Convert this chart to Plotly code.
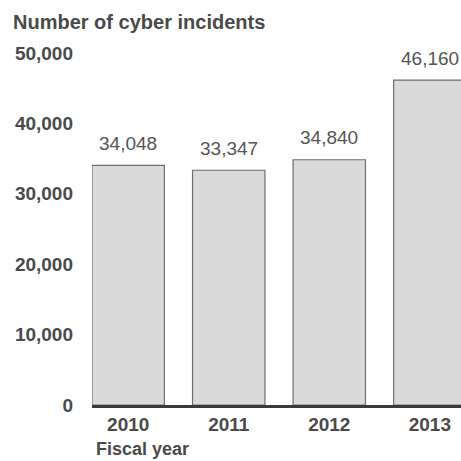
import plotly.graph_objects as go

years = ["2010", "2011", "2012", "2013"]
incidents = [34048, 33347, 34840, 46160]
y_ticks = [0, 10000, 20000, 30000, 40000, 50000]
y_tick_labels = ["0", "10,000", "20,000", "30,000", "40,000", "50,000"]

FONT = "Liberation Sans, Arial, sans-serif"
TXT = "#4a4a4a"

fig = go.Figure()
fig.add_trace(go.Bar(
    x=years, y=incidents,
    marker=dict(color="#dadada", line=dict(color="#6e6e6e", width=1.2)),
    hoverinfo="skip",
))

for i, v in enumerate(incidents):
    fig.add_annotation(x=i, y=v, text=f"{v:,}", showarrow=False,
                       yanchor="middle", yshift=22,
                       font=dict(family=FONT, size=19, color="#555555"))

fig.add_annotation(xref="paper", yref="paper", x=0, y=0, xanchor="left",
                   yanchor="middle", xshift=2, yshift=-44, showarrow=False,
                   text="Fiscal year",
                   font=dict(family=FONT, size=18, color=TXT, weight="bold"))

fig.update_layout(
    width=461, height=461,
    margin=dict(l=92, r=0, t=53, b=56),
    paper_bgcolor="white", plot_bgcolor="white",
    bargap=0.28, showlegend=False,
    title=dict(text="Number of cyber incidents", xref="container", yref="container",
               x=13/461, xanchor="left", y=1-22/461, yanchor="middle",
               font=dict(family=FONT, size=20, color=TXT, weight="bold")),
)
fig.update_xaxes(type="category", range=[-0.36, 3.31], showline=True,
                 linecolor="#3a3a3a", linewidth=2.5, ticks="", showgrid=False,
                 ticklabelstandoff=0,
                 tickfont=dict(family=FONT, size=19, color=TXT, weight="bold"))
fig.update_yaxes(range=[0, 50000], tickvals=y_ticks, ticktext=y_tick_labels,
                 showgrid=False, zeroline=False, showline=False, ticks="",
                 ticklabelstandoff=18,
                 tickfont=dict(family=FONT, size=19, color=TXT, weight="bold"))

fig.write_html("out.html", config={"displayModeBar": False},
               post_script="document.body.style.margin='0';document.body.style.overflow='hidden';")
